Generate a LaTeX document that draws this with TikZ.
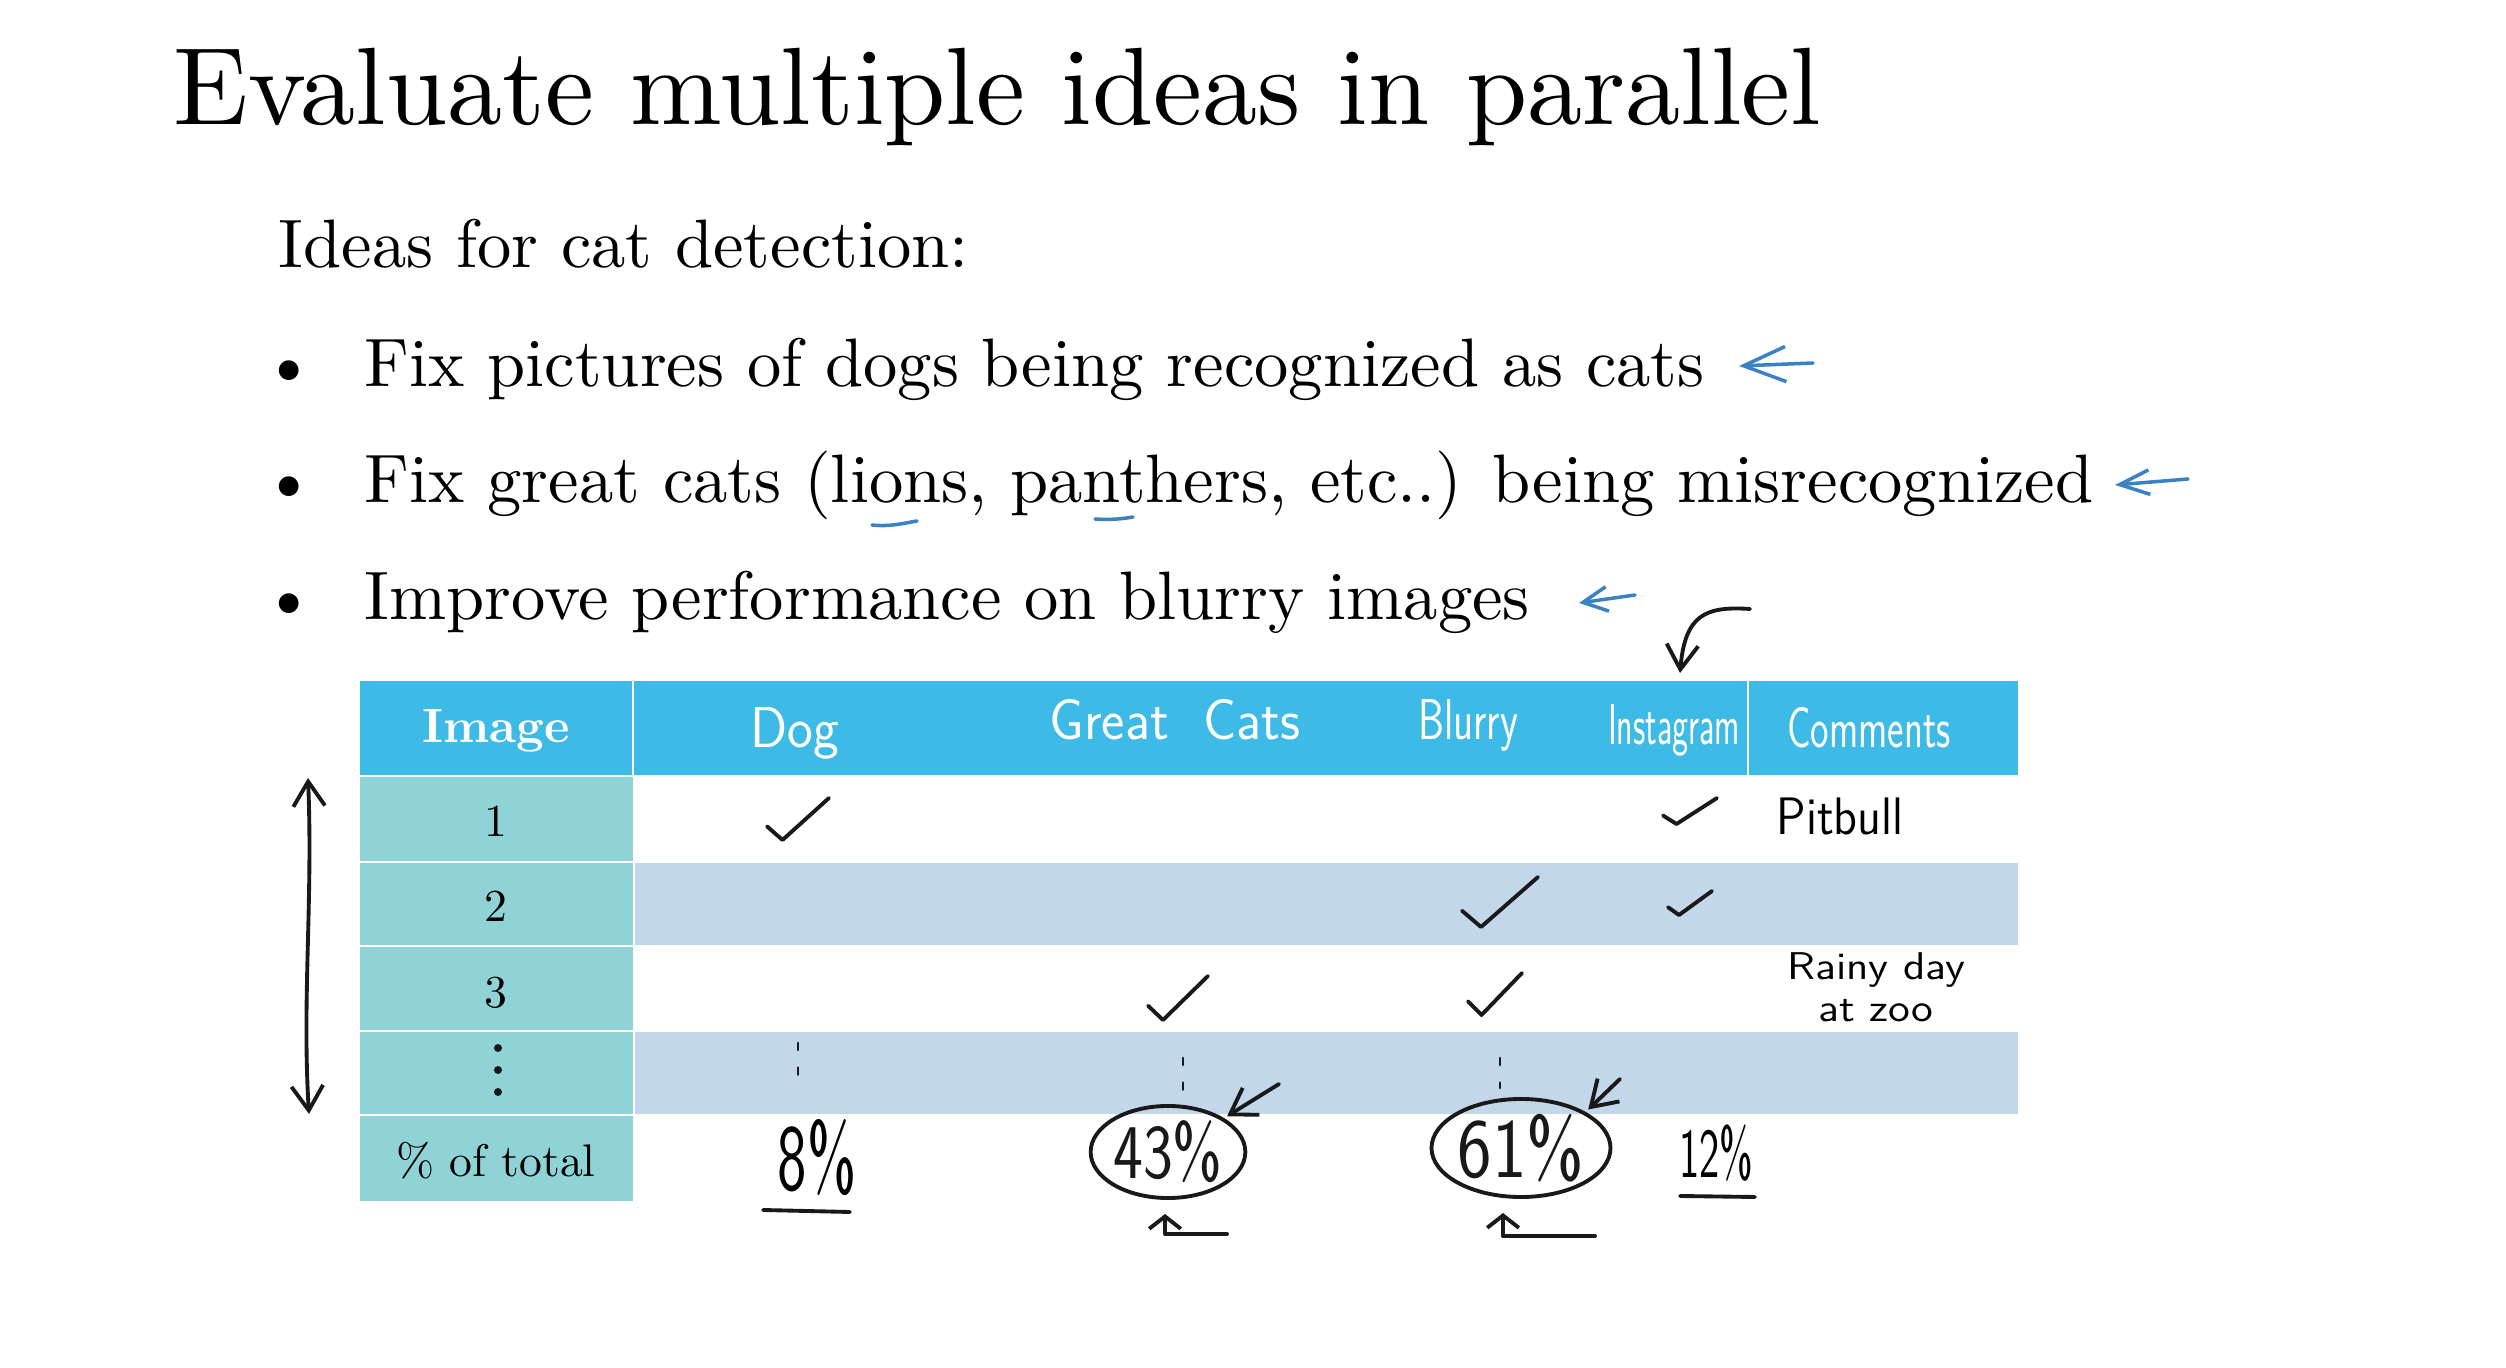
\documentclass[tikz,border=0pt]{standalone}
\usepackage{fontspec}
\setmainfont{lmroman10-regular.otf}[BoldFont=lmroman10-bold.otf]
\usetikzlibrary{arrows.meta, calc, shapes.geometric}
\definecolor{headblue}{RGB}{62,186,230}
\definecolor{imgteal}{RGB}{143,211,214}
\definecolor{rowblue}{RGB}{194,215,234}
\definecolor{penblue}{RGB}{58,130,196}
\newcommand{\hw}[2]{\scalebox{#1}[1]{#2}}

\begin{document}
\begin{tikzpicture}[x=0.01cm, y=-0.01cm, line cap=round, line join=round,
	pen/.style={line width=1.1pt, black!90},
	bluepen/.style={line width=1pt, penblue},
	barb/.style={-{Straight Barb[length=7pt, width=9pt]}},
	smallbarb/.style={-{Straight Barb[length=3.5pt, width=9pt]}},
	txt/.style={inner sep=0pt, anchor=base west, font=\fontsize{19.5}{23}\selectfont},
	cell/.style={inner sep=0pt, anchor=base, font=\fontsize{13}{15}\selectfont},
	hand/.style={inner sep=0pt, anchor=base, font=\sffamily\fontsize{16.4}{19}\selectfont},
	checkmk/.pic={\draw[pen] (-1,0.35) -- (-0.5,1) -- (1,-1);}]

\useasboundingbox (0,0) rectangle (2506,1368);

% ==== Slide text ====
\node[txt, font=\fontsize{31.3}{36}\selectfont] (title) at (173,125) {Evaluate multiple ideas in parallel};
\node[txt] (intro) at (278,268) {Ideas for cat detection:};
\node[txt] (idea1) at (364,387) {Fix pictures of dogs being recognized as cats};
\node[txt] (idea2) at (364,503) {Fix great cats (lions, panthers, etc..) being misrecognized};
\node[txt] (idea3) at (364,620) {Improve performance on blurry images};
\foreach \n in {idea1, idea2, idea3}
	\node[txt, anchor=base] (dot\n) at ($(\n.base west)+(-75,0)$) {\textbullet};

% blue marks next to the ideas
\coordinate (b1s) at (1813,363); \coordinate (b1e) at (1739,366);
\coordinate (b2s) at (2188,479); \coordinate (b2e) at (2115,485);
\coordinate (b3s) at (1635,595); \coordinate (b3e) at (1579,603);
\draw[bluepen, -{Straight Barb[length=12pt, width=10pt]}] (b1s) -- (b1e);
\draw[bluepen, -{Straight Barb[length=8.5pt, width=7pt]}] (b2s) -- (b2e);
\draw[bluepen, -{Straight Barb[length=7pt, width=7pt]}] (b3s) -- (b3e);
\draw[bluepen] (872,525) .. controls (890,527) and (905,523) .. (917,521);
\draw[bluepen] (1095,519) .. controls (1110,520) and (1122,519) .. (1133,517);

% ==== Table ====
\fill[headblue] (360,681) rectangle (2018,775);
\draw[white, line width=0.6pt] (633,681) -- (633,775) (1748,681) -- (1748,775);
\foreach \t/\b in {777/861, 863/945, 947/1030, 1032/1114, 1116/1201}
	\fill[imgteal] (360,\t) rectangle (633,\b);
\foreach \t/\b in {863/945, 1032/1114}
	\fill[rowblue] (635,\t) rectangle (2018,\b);

\node[cell, text=white, font=\bfseries\fontsize{13.7}{15}\selectfont] (hImage) at (496,743) {Image};
\node[cell] (r1) at (496,837) {1};
\node[cell] (r2) at (496,922) {2};
\node[cell] (r3) at (496,1008) {3};
\foreach \y in {1048,1070,1092}
	\fill[black!90] (498,\y) circle (4);
\node[cell] (rtotal) at (496,1177) {\% of total};

% handwritten column heads
\node[hand, text=white] (hDog) at (795,748) {\hw{0.95}{Dog}};
\node[hand, text=white] (hCats) at (1175,740) {\hw{0.96}{Great\ \ Cats}};
\node[hand, text=white] (hBlurry) at (1468,740) {\hw{0.72}{Blurry}};
\node[hand, text=white] (hInsta) at (1674,745) {\hw{0.59}{Instagram}};
\node[hand, text=white] (hComm) at (1869,748) {\hw{0.68}{Comments}};

% ticks
\pic[xscale=31, yscale=21] at (798,819) {checkmk};
\pic[xscale=27, yscale=13] at (1690,811) {checkmk};
\pic[xscale=38, yscale=25] at (1500,902) {checkmk};
\pic[xscale=22, yscale=12] at (1690,903) {checkmk};
\pic[xscale=30, yscale=22] at (1178,998) {checkmk};
\pic[xscale=27, yscale=21] at (1495,994) {checkmk};

% comments
\node[hand, font=\sffamily\fontsize{15}{17}\selectfont] (cPit) at (1840,835) {\hw{0.9}{Pitbull}};
\node[hand, font=\sffamily\fontsize{11}{13}\selectfont] (cRain) at (1876,980) {\hw{1.15}{Rainy\ day}};
\node[hand, font=\sffamily\fontsize{11}{13}\selectfont] (cZoo) at (1876,1022) {\hw{1.15}{at zoo}};

% dotted continuation
\draw[pen, line width=0.8pt, dash pattern=on 2pt off 5pt] (798,1043) -- (798,1087);
\draw[pen, line width=0.8pt, dash pattern=on 2pt off 5pt] (1183,1058) -- (1183,1095);
\draw[pen, line width=0.8pt, dash pattern=on 2pt off 5pt] (1500,1058) -- (1500,1088);

% ==== Totals ====
\node[inner sep=0pt, font=\sffamily\fontsize{27}{30}\selectfont] (p8) at (817,1158) {\hw{0.66}{8\%}};
\node[pen, draw, ellipse, inner sep=0pt, minimum width=1.54cm, minimum height=0.92cm,
	font=\sffamily\fontsize{22}{25}\selectfont] (p43) at (1168,1152) {\hw{0.82}{43\%}};
\node[pen, draw, ellipse, inner sep=0pt, minimum width=1.74cm, minimum height=0.98cm,
	font=\sffamily\fontsize{24}{27}\selectfont] (p61) at (1521,1148) {\hw{0.87}{61\%}};
\node[inner sep=0pt, font=\sffamily\fontsize{20}{23}\selectfont] (p12) at (1716,1153) {\hw{0.61}{12\%}};
\draw[pen] (763,1210) -- (850,1212);
\draw[pen] (1680,1196) -- (1755,1197);

% arrows onto the totals
\coordinate (a43) at (1279,1084);
\coordinate (a61) at (1620,1079);
\coordinate (u43) at (1227,1234);
\coordinate (u61) at (1595,1236);
\draw[pen, barb, shorten >=1pt] (a43) -- (p43.north east);
\draw[pen, barb, shorten >=1pt] (a61) -- (p61.north east);
\draw[pen, smallbarb, shorten >=4pt] (u43) -| ($(p43.south)+(-3,0)$);
\draw[pen, smallbarb, shorten >=4pt] (u61) -| ($(p61.south)+(-18,0)$);

% arrow onto Instagram, and the range of the rows
\coordinate (igs) at (1750,609);
\coordinate (igt) at (1680,673);
\draw[pen, barb] (igs) .. controls (1705,606) and (1685,615) .. (igt);
\coordinate (vtop) at (308,778);
\coordinate (vbot) at (309,1114);
\draw[pen, {Straight Barb[length=7pt, width=9pt]}-{Straight Barb[length=7pt, width=9pt]}]
	(vtop) .. controls (313,900) and (302,1000) .. (vbot);

\end{tikzpicture}
\end{document}
